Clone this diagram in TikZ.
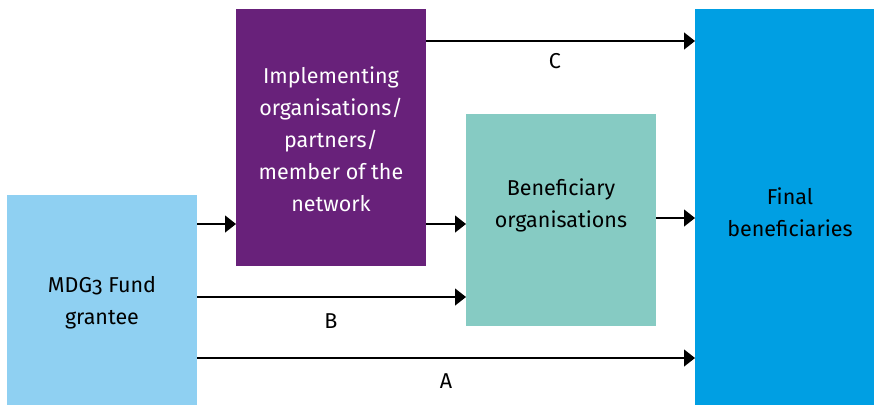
\documentclass[tikz,border=0pt]{standalone}
\usepackage{fontspec}
\setmainfont[Numbers=OldStyle]{Fira Sans}
\usetikzlibrary{arrows.meta}
\definecolor{cgrant}{HTML}{8FD0F2}
\definecolor{cimpl}{HTML}{68217A}
\definecolor{cbenef}{HTML}{86CBC3}
\definecolor{cfinal}{HTML}{009FE3}
\tikzset{
  box/.style={draw=none, inner sep=0pt, outer sep=0pt, anchor=north west},
  txt/.style={align=center, font=\fontsize{21.5}{32}\selectfont, inner sep=0pt},
  arr/.style={line width=1.2pt, -{Triangle[length=11pt,width=17pt]}},
  lbl/.style={font=\fontsize{21.5}{32}\selectfont, inner sep=0pt}
}
\begin{document}
\begin{tikzpicture}[x=1pt,y=-1pt]
\useasboundingbox[fill=white] (0,0) rectangle (874,405);
\node[box, fill=cgrant, minimum width=190pt, minimum height=210pt] (grant) at (7,195) {};
\node[box, fill=cimpl, minimum width=190pt, minimum height=257pt] (impl) at (236,9) {};
\node[box, fill=cbenef, minimum width=190pt, minimum height=212pt] (benef) at (466,114) {};
\node[box, fill=cfinal, minimum width=179pt, minimum height=396pt] (final) at (695,9) {};
\node[txt] (tgrant) at (102,303) {MDG3 Fund\\grantee};
\node[txt, text=white] (timpl) at (331,139) {Implementing\\organisations/\\partners/\\member of the\\network};
\node[txt] (tbenef) at (561,205) {Beneficiary\\organisations};
\node[txt] (tfinal) at (790,212) {Final\\beneficiaries};
\draw[arr] (impl.east |- 0,41) -- (final.west |- 0,41);
\draw[arr] (grant.east |- 0,224) -- (impl.west |- 0,224);
\draw[arr] (impl.east |- 0,224) -- (benef.west |- 0,224);
\draw[arr] (benef.east |- 0,218) -- (final.west |- 0,218);
\draw[arr] (grant.east |- 0,297) -- (benef.west |- 0,297);
\draw[arr] (grant.east |- 0,358) -- (final.west |- 0,358);
\node[lbl] (lc) at (555,61) {C};
\node[lbl] (lb) at (331,321) {B};
\node[lbl] (la) at (446,381) {A};
\end{tikzpicture}
\end{document}
